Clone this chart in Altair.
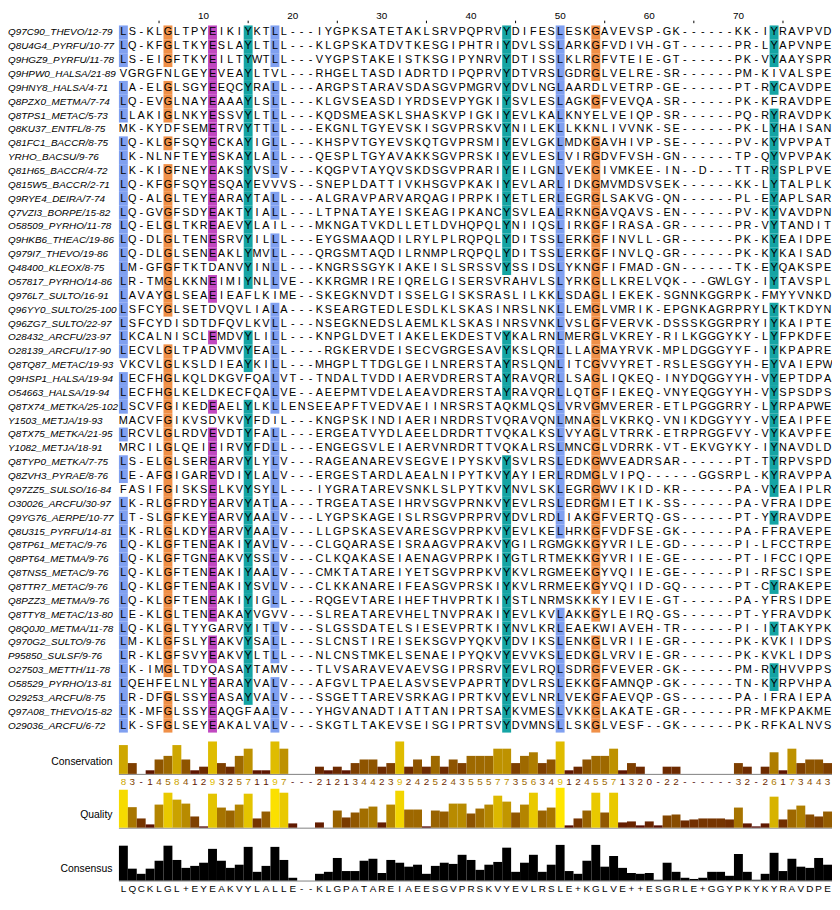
import altair as alt
import pandas as pd

# ---------------- data ----------------
names = [
    "Q97C90_THEVO/12-79", "Q8U4G4_PYRFU/10-77", "Q9HGZ9_PYRFU/11-78", "Q9HPW0_HALSA/21-89",
    "Q9HNY8_HALSA/4-71", "Q8PZX0_METMA/7-74", "Q8TPS1_METAC/5-73", "Q8KU37_ENTFL/8-75",
    "Q81FC1_BACCR/8-75", "YRHO_BACSU/9-76", "Q81H65_BACCR/4-72", "Q815W5_BACCR/2-71",
    "Q9RYE4_DEIRA/7-74", "Q7VZI3_BORPE/15-82", "O58509_PYRHO/11-78", "Q9HKB6_THEAC/19-86",
    "Q979I7_THEVO/19-86", "Q48400_KLEOX/8-75", "O57817_PYRHO/14-86", "Q976L7_SULTO/16-91",
    "Q96YY0_SULTO/25-100", "Q96ZG7_SULTO/22-97", "O28432_ARCFU/23-97", "O28139_ARCFU/17-90",
    "Q8TQ87_METAC/19-93", "Q9HSP1_HALSA/19-94", "O54663_HALSA/19-94", "Q8TX74_METKA/25-102",
    "Y1503_METJA/19-93", "Q8TX75_METKA/21-95", "Y1082_METJA/18-91", "Q8TYP0_METKA/7-75",
    "Q8ZVH3_PYRAE/8-76", "Q97ZZ5_SULSO/16-84", "O30026_ARCFU/30-97", "Q9YG76_AERPE/10-77",
    "Q8U315_PYRFU/14-81", "Q8TP61_METAC/9-76", "Q8PT64_METMA/9-76", "Q8TNS5_METAC/9-76",
    "Q8TTR7_METAC/9-76", "Q8PZZ3_METMA/9-76", "Q8TTY8_METAC/13-80", "Q8Q0J0_METMA/11-78",
    "Q970G2_SULTO/9-76", "P95850_SULSF/9-76", "O27503_METTH/11-78", "O58529_PYRHO/13-81",
    "O29253_ARCFU/8-75", "Q97A08_THEVO/15-82", "O29036_ARCFU/6-72",
]

sequences = [
    "LS-KLGLTPY" "EIKIYKTLL-" "--IYGPKSAT" "ETAKLSRVPQ" "PRVYDIFESL" "ESKGAVEVSP" "-GK------K" "K-IYRAVPVD",
    "LQ-KFGLTKY" "ESLAYLTLL-" "--KLGPSKAT" "DVTKESGIPH" "TRIYDVLSSL" "ARKGFVDIVH" "-GT------P" "R-LYAPVNPE",
    "LS-EIGFTKY" "EILTYWTLL-" "--VYGPSTAK" "EISTKSGIPY" "NRVYDTISSL" "KLRGFVTEIE" "-GT------P" "K-VYAAYSPR",
    "VGRGFNLGEY" "EVEAYLTVL-" "--RHGELTAS" "DIADRTDIPQ" "PRVYDTVRSL" "GDRGLVELRE" "-SR------P" "M-KIVALSPE",
    "LA-ELGLSGY" "EEQCYRALL-" "--ARGPSTAR" "AVSDASGVPM" "GRVYDVLNGL" "AARDLVETRP" "-GE------P" "T-RYCAVDPE",
    "LQ-EVGLNAY" "EAAAYLSLL-" "--KLGVSEAS" "DIYRDSEVPY" "GKIYSVLESL" "AGKGFVEVQA" "-SR------P" "K-KFRAVDPE",
    "LLAKIGLNKY" "ESSVYLTLL-" "--KQDSMEAS" "KLSHASKVPI" "GKIYEVLKAL" "KNYELVEIQP" "-SR------P" "Q-RYRAVDPK",
    "MK-KYDFSEM" "ETRVYTTLL-" "--EKGNLTGY" "EVSKISGVPR" "SKVYNILEKL" "LKKNLIVVNK" "-SE------P" "K-LYHAISAN",
    "LQ-KLGFSQY" "ECKAYIGLL-" "--KHSPVTGY" "EVSKQTGVPR" "SMIYEVLGKL" "MDKGAVHIVP" "-SE------P" "V-KYVPVPAT",
    "LK-NLNFTEY" "ESKAYLALL-" "--QESPLTGY" "AVAKKSGVPR" "SKIYEVLESL" "VIRGDVFVSH" "-GN------T" "P-QYVPVPAK",
    "LK-KIGFNEY" "EAKSYVSLV-" "--KQGPVTAY" "QVSKDSGVPR" "ARIYEILGNL" "VEKGIVMKEE" "-IN--D---T" "T-RYSPLPVE",
    "LQ-KFGFSQY" "ESQAYEVVVS" "--SNEPLDAT" "TIVKHSGVPK" "AKIYEVLARL" "IDKGMVMDSV" "SEK------K" "K-LYTALPLK",
    "LQ-ALGLTEY" "EARAYTALL-" "--ALGRAVPA" "RVARQAGIPR" "PKIYETLERL" "EGRGLSAKVG" "-QN------P" "L-EYAPLSAR",
    "LQ-GVGFSDY" "EAKTYIALL-" "--LTPNATAY" "EISKEAGIPK" "ANCYSVLEAL" "RKNGAVQAVS" "-EN------P" "V-KYVAVDPN",
    "LQ-ELGLTKR" "EAEVYLAIL-" "--MKNGATVK" "DLLETLDVHQ" "PQLYNIIQSL" "IRKGFIRASA" "-GR------P" "R-VYTANDIT",
    "LQ-DLGLTEN" "ESRVYILLL-" "--EYGSMAAQ" "DILRYLPLRQ" "PQLYDITSSL" "ERKGFINVLL" "-GR------P" "K-KYEAIDPE",
    "LQ-DLGLSEN" "EAKLYMVLL-" "--QRGSMTAQ" "DILRNMPLRQ" "PQLYDITSSL" "ERKGFINVLQ" "-GR------P" "K-KYKAISAD",
    "LM-GFGFTKT" "DANVYINLL-" "--KNGRSSGY" "KIAKEISLSR" "SSVYSSIDSL" "YKNGFIFMAD" "-GN------T" "K-EYQAKSPE",
    "LR-TMGLKKN" "EIMIYNLLVE" "--KKRGMRIR" "EIQRELGISE" "RSVRAHVLSL" "YRKGLLKREL" "VQK---GWLG" "Y-IYTAVSPL",
    "LAVAYGLSEA" "EIEAFLKIME" "--SKEGKNVD" "TISSELGISK" "SRASLILKKL" "SDAGLIEKEK" "-SGNNKGGRP" "K-FMYYVNKD",
    "LSFCYGLSET" "DVQVLIALA-" "--KSEARGTE" "DLESDLKLSK" "ASINRSLNKL" "LEMGLVMRIK" "-EPGNKAGRP" "RYLYKTKDYN",
    "LSFCYDISDT" "DFQVLKVLL-" "--NSEGKNED" "SLAEMLKLSK" "ASINRSVNKL" "VSLGFVERVK" "-DSSSKGGRP" "RYIYKAIPTE",
    "LKCALNISCL" "EMDVYLILL-" "--KNPGLDVE" "TIAKELEKDE" "STVYKALRNL" "MERGLVKREY" "-RILKGGGYK" "Y-LYFPKDFE",
    "LECVLGLTPA" "DVMVYEALL-" "---RGKERVD" "EISECVGRGE" "SAVYKSLQRL" "LLAGMAYRVK" "-MPLDGGGYY" "F-IYKPAPRE",
    "VKCVLGLKSL" "DIEAYKILL-" "--MHGPLTTD" "GLGEILNRER" "STAYRSLQNL" "ITCGVVYRET" "-RSLESGGYY" "H-EYVAIEPW",
    "LECFHGLKQL" "DKGVFQALVT" "--TNDALTVD" "DIAERVDRER" "STAYRAVQRL" "LSAGLIQKEQ" "-INYDQGGYY" "H-VYEPTDPA",
    "LECFHGLKEL" "DKECFQALVE" "--AEEPMTVD" "ELAEAVDRER" "STAYRAVQRL" "LQTGFIEKEQ" "-VNYEQGGYY" "H-VYSPSDPS",
    "LSCVFGIKED" "EAELYLKLLE" "NSEEAPFTVE" "DVAEIINRSR" "STAQKMLQSL" "VRVGMVERER" "-ETLPGGGRR" "Y-LYRPAPWE",
    "MACVFGIKVS" "DVKVYFDIL-" "--KNGPSKIN" "DIAERINRDR" "STVQRAVQNL" "MNAGLVKRKQ" "-VNIKDGGYY" "Y-VYEAIPFE",
    "LRCVLGLRDV" "EVDTYFALL-" "--ERGEATVY" "DLAEELDRDR" "TTVQKALKSL" "VYAGLVTRRK" "-ETRPRGGFV" "Y-VYKAVPFE",
    "MRCILGLQEI" "EIRVYFDLL-" "--ENGEGSVL" "EIAERVNRDR" "TTVQKALRSL" "MNCGLVDRRK" "-VT-EKVGYK" "Y-IYNAVDLD",
    "LS-ELGLSER" "EARVYLYLV-" "--RAGEANAR" "EVSEGVEIPY" "SKVYSVLRSL" "EDKGWVEADR" "SAR------P" "T-TYRPVSPD",
    "LE-AFGIGAR" "EVDIYLALV-" "--ERGESTAR" "DLAEALNIPY" "TKVYAYIERL" "RDMGLVIPQ-" "-----GGSRP" "L-KYRAVPPA",
    "FASIFGISKS" "ELKVYSYLL-" "--IYGRATAR" "EVSNKLSLPY" "TKVYNVLSKL" "EGRGWVIKID" "-KR------P" "A-VYEAIPLR",
    "LK-RLGFRDY" "EARVYATLA-" "--TRGEATAS" "EIHRVSGVPR" "NKVYEVLRSL" "EDRGMIETIK" "-SS------P" "A-VFRAIDPE",
    "LT-SLGFKEY" "EARVYAALV-" "--LYGPSKAG" "EISLRSGVPR" "PRVYDVLRDL" "IAKGFVERTQ" "-GS------P" "T-YYRAVDPE",
    "LK-RLGLKDY" "EARVYAALV-" "--LLGPSKAS" "EVARESGVPR" "PKVYEVLKEL" "HRKGFVDFSE" "-GK------P" "A-FFRAVEPE",
    "LQ-KLGFTEN" "EAKIYAVLV-" "--CLGQARAS" "EISRAAGVPR" "AKVYGILRGM" "GKKGYVRILE" "-GD------P" "I-LFCCTRPE",
    "LQ-KLGFTGN" "EAKVYSSLV-" "--CLKQAKAS" "EIAENAGVPR" "PKIYGTLRTM" "EKKGYVRIIE" "-GE------P" "T-IFCCIQPE",
    "LQ-KLGFTEN" "EAKIYAALV-" "--CMKTATAR" "EIYETSGVPR" "PKVYKVLRGM" "EEKGYVQIIE" "-GE------P" "I-RFSCISPE",
    "LQ-KLGFTEN" "EAKIYSVLV-" "--CLKKANAR" "EIFEASGVPR" "SKIYKVLRRM" "EEKGYVQIID" "-GQ------P" "T-CYRAKEPE",
    "LQ-KLGFTEN" "EAKIYIGLL-" "--RQGEVTAR" "EIHEFTHVPR" "TKIYSTLNRM" "SKKKYIEVIE" "-GT------P" "A-YFRSIDPE",
    "LE-KLGLTEN" "EAKAYVGVV-" "--SLREATAR" "EVHELTNVPR" "AKIYEVLKVL" "AKKGYLEIRQ" "-GS------P" "T-YFRAVDPK",
    "LQ-KLGLTYY" "GARVYITLV-" "--SLGSSDAT" "ELSIESEVPR" "TKIYNVLKRL" "EAEKWIAVEH" "-TR------P" "I-IYTAKYPK",
    "LM-KLGFSLY" "EAKVYSALL-" "--SLCNSTIR" "EISEKSGVPY" "QKVYDVIKSL" "ENKGLVRIIE" "-GR------P" "K-KVKIIDPS",
    "LR-KLGFSVY" "EAKVYLTLL-" "--NLCNSTMK" "ELSENAEIPY" "QKVYEVVKSL" "EDKGLVRVIE" "-GR------P" "K-KVKLIDPS",
    "LK-IMGLTDY" "QASAYTAMV-" "--TLVSARAV" "EVAEVSGIPR" "SRVYEVLRQL" "SDRGFVEVER" "-GK------P" "M-RYHVVPPS",
    "LQEHFELNLY" "EARAYVALV-" "--AFGVLTPA" "ELASVSEVPA" "PRTYDVLRSL" "EKKGFAMNQP" "-GK------T" "N-KYRPVHPA",
    "LR-DFGLSSY" "EASAYVALV-" "--SSGETTAR" "EVSRKAGIPR" "TKVYEVLNRL" "VEKGFAEVQP" "-GS------P" "A-IFRAIEPA",
    "LK-MFGLSSY" "EAQGFAALV-" "--YHGVANAD" "TIATTANIPR" "TSAYKVMESL" "VKKGLAKATE" "-GR------P" "R-MFKPAKME",
    "LK-SFGLSEY" "EAKALVALV-" "--SKGTLTAK" "EVSEISGIPR" "TSVYDVMNSL" "LSKGLVESF-" "-GK------P" "K-RFKALNVS",
]

conservation = [
    "8", "3", "-", "1", "4", "5", "8", "4", "1", "2",
    "9", "3", "2", "5", "7", "1", "1", "9", "7", "-",
    "-", "-", "2", "1", "2", "1", "3", "4", "4", "2",
    "3", "9", "2", "4", "2", "5", "2", "4", "3", "5",
    "5", "5", "7", "7", "3", "5", "6", "3", "4", "9",
    "1", "2", "4", "5", "5", "7", "1", "3", "2", "0",
    "-", "2", "2", "-", "-", "-", "-", "-", "-", "3",
    "2", "-", "2", "6", "1", "7", "3", "4", "4", "3",
]

quality = [
    38.3, 20.7, 9.3, 3.3, 23.3, 35.3, 28.3, 24.3, 11.3, 1.3,
    34.3, 20.3, 17.3, 23.3, 34.3, 9.3, 16.3, 39.3, 35.3, 4.3,
    0, 0, 5.3, 0, 17.3, 10.3, 15.3, 19.3, 21.3, 5.3,
    23.3, 37.3, 18.3, 18.3, 1.3, 17.3, 16.3, 24.3, 24.3, 14.3,
    19.3, 23.3, 32.3, 26.3, 15.3, 23.3, 35.3, 17.3, 20.3, 40.3,
    2.3, 9.3, 17.3, 35.3, 15.3, 35.3, 5.3, 6.3, 2.3, 6.3,
    2.3, 12.3, 13.3, 7.3, 8.3, 9.3, 9.3, 9.3, 8.3, 20.3,
    4.3, 1.3, 4.3, 31.3, 8.3, 18.3, 22.3, 13.3, 11.3, 16.3,
]

consensus_res = [
    "L", "Q", "C", "K", "L", "G", "L", "+", "E", "Y",
    "E", "A", "K", "V", "Y", "L", "A", "L", "L", "E",
    "-", "-", "K", "L", "G", "P", "A", "T", "A", "R",
    "E", "I", "A", "E", "E", "S", "G", "V", "P", "R",
    "S", "K", "V", "Y", "E", "V", "L", "R", "S", "L",
    "E", "+", "K", "G", "L", "V", "E", "+", "+", "E",
    "S", "G", "R", "L", "E", "+", "G", "G", "Y", "P",
    "K", "Y", "K", "Y", "R", "A", "V", "D", "P", "E",
]

consensus_pct = [
    88, 30, 17, 30, 50, 88, 52, 32, 37, 45,
    80, 50, 32, 40, 85, 22, 37, 85, 52, 7,
    0, 0, 17, 22, 57, 24, 24, 50, 55, 19,
    52, 45, 35, 40, 17, 37, 45, 42, 65, 52,
    27, 40, 47, 83, 22, 45, 65, 22, 40, 90,
    24, 17, 50, 90, 35, 62, 32, 19, 17, 19,
    2, 45, 22, 7, 4, 7, 22, 22, 12, 67,
    22, 2, 17, 70, 24, 55, 35, 32, 57, 40,
]

ruler_labels = [10, 20, 30, 40, 50, 60, 70]
ruler_ticks = [5, 15, 25, 35, 45, 55, 65, 75]

# Clustal-style colouring of the conserved columns
scheme_cols = {1: "L", 6: "G", 11: "E", 15: "Y", 18: "L", 44: "Y", 50: "L", 54: "G", 74: "Y"}
res_colours = {"L": "#80a0f0", "G": "#f09048", "E": "#c048c0", "Y": "#15a4a4"}

NCOL = 80
cols = list(range(1, NCOL + 1))
FONT = "Liberation Sans"

# ---------------- tables ----------------
recs = []
for name, s in zip(names, sequences):
    s = s.ljust(NCOL, "-")[:NCOL]
    for i, ch in enumerate(s, start=1):
        hl = res_colours[ch] if scheme_cols.get(i) == ch else None
        recs.append({"name": name, "col": i, "res": ch, "hl": hl})
cells = pd.DataFrame(recs)
hl_cells = cells.dropna(subset=["hl"])

ann = pd.DataFrame({
    "col": cols,
    "digit": conservation,
    "cv": [int(d) if d.isdigit() else 0 for d in conservation],
    "q": quality,
    "cres": consensus_res,
    "cpct": consensus_pct,
})
names_df = pd.DataFrame({"name": names})
ruler_df = pd.DataFrame({"col": ruler_labels, "lab": [str(v) for v in ruler_labels]})
ticks_df = pd.DataFrame({"col": ruler_ticks})
titles_df = pd.DataFrame({"t": ["Conservation", "Quality", "Consensus"]})

# ---------------- scales ----------------
xsc = alt.Scale(type="band", domain=cols, range=[112, 832], paddingInner=0, paddingOuter=0)
X = alt.X("col:O", scale=xsc, axis=None)
ysc = alt.Scale(type="band", domain=names, range=[13.3, 727.3], paddingInner=0, paddingOuter=0)
Y = alt.Y("name:N", scale=ysc, axis=None)

cons_col = alt.Scale(domain=[0, 11], range=["rgb(77,0,0)", "rgb(255,230,0)"], interpolate="rgb")
qmax = max(quality)
qual_col = alt.Scale(domain=[0, qmax], range=["rgb(77,0,0)", "rgb(255,230,0)"], interpolate="rgb")

# ---------------- layers ----------------
highlight = alt.Chart(hl_cells).mark_rect().encode(x=X, y=Y, color=alt.Color("hl:N", scale=None))

residues = alt.Chart(cells).mark_text(font=FONT, fontSize=11, baseline="middle", color="black").encode(
    x=X, y=Y, text="res:N")

seq_names = alt.Chart(names_df).mark_text(font=FONT, fontSize=10, fontStyle="italic", align="left",
                                          baseline="middle", color="black").encode(
    x=alt.value(0), y=Y, text="name:N")

ruler_text = alt.Chart(ruler_df).mark_text(font=FONT, fontSize=10, baseline="alphabetic", color="black").encode(
    x=X, y=alt.value(6.5), text="lab:N")
ruler_tick = alt.Chart(ticks_df).mark_rule(color="black", strokeWidth=1).encode(
    x=X, y=alt.value(8.5), y2=alt.value(11))

cons_bars = alt.Chart(ann).transform_filter("datum.cv > 0").mark_rect().encode(
    x=X,
    y=alt.Y("cv:Q", scale=alt.Scale(domain=[0, 11], range=[769, 729], nice=False, zero=False), axis=None),
    y2=alt.datum(0),
    color=alt.Color("cv:Q", scale=cons_col, legend=None))
cons_text = alt.Chart(ann).mark_text(font=FONT, fontSize=10, baseline="alphabetic").encode(
    x=X, y=alt.value(780), text="digit:N", color=alt.Color("cv:Q", scale=cons_col, legend=None))

qual_bars = alt.Chart(ann).transform_filter("datum.q > 0").mark_rect().encode(
    x=X,
    y=alt.Y("q:Q", scale=alt.Scale(domain=[0, 40.3], range=[823.3, 783], nice=False, zero=False), axis=None),
    y2=alt.datum(0),
    color=alt.Color("q:Q", scale=qual_col, legend=None))

consensus_bars = alt.Chart(ann).transform_filter("datum.cpct > 0").mark_rect(color="black").encode(
    x=X,
    y=alt.Y("cpct:Q", scale=alt.Scale(domain=[0, 100], range=[876.7, 836.7], nice=False, zero=False), axis=None),
    y2=alt.datum(0))
consensus_text = alt.Chart(ann).mark_text(font=FONT, fontSize=10, baseline="alphabetic", color="black").encode(
    x=X, y=alt.value(888), text="cres:N")

base_lines = []
for yv in [769.5, 823.8, 877.2]:
    base_lines.append(alt.Chart(titles_df.head(1)).mark_rule(color="#808080", strokeWidth=1).encode(
        x=alt.value(112), x2=alt.value(832), y=alt.value(yv)))

titles = []
for t, yv in zip(["Conservation", "Quality", "Consensus"], [756.7, 810.7, 864.7]):
    titles.append(alt.Chart(titles_df[titles_df.t == t]).mark_text(
        font=FONT, fontSize=10.5, align="right", baseline="middle", color="black").encode(
        x=alt.value(105.5), y=alt.value(yv), text="t:N"))

chart = alt.layer(
    highlight, residues, seq_names, ruler_text, ruler_tick,
    *base_lines, cons_bars, cons_text, qual_bars, consensus_bars, consensus_text, *titles
).resolve_scale(y="independent", color="independent").properties(
    width=832, height=890, padding=0, autosize=alt.AutoSizeParams(type="none")
).configure_view(stroke=None)

chart.save("out.html", embed_options={"renderer": "svg", "actions": False})
